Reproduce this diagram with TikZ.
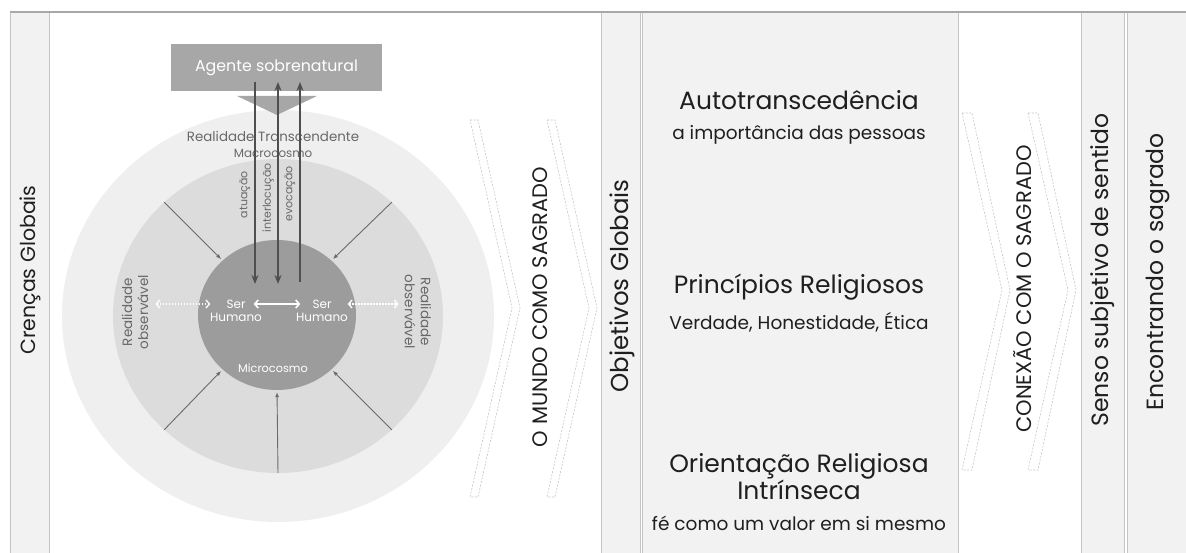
\documentclass[tikz,border=0pt]{standalone}
\usepackage{fontspec}
\setmainfont{Poppins}
\usetikzlibrary{arrows.meta,positioning,shapes.geometric}

\definecolor{panelfill}{HTML}{F2F2F2}
\definecolor{panelline}{HTML}{C4C4C4}
\definecolor{topline}{HTML}{A8A8A8}
\definecolor{macroring}{HTML}{EFEFEF}
\definecolor{obsring}{HTML}{DCDCDC}
\definecolor{microcore}{HTML}{9C9C9C}
\definecolor{agentgray}{HTML}{A7A7A7}
\definecolor{linkgray}{HTML}{4F4F4F}
\definecolor{radialgray}{HTML}{6A6A6A}
\definecolor{softtext}{HTML}{686868}
\definecolor{ink}{HTML}{1F1F1F}

\begin{document}
\begin{tikzpicture}[x=1pt,y=-1pt,
    panel/.style={fill=panelfill,draw=panelline,line width=0.8pt},
    coltitle/.style={rotate=90,text=ink,inner sep=0pt,font=\fontsize{23.5}{28}\selectfont},
    flowtitle/.style={rotate=90,text=ink,inner sep=0pt,font=\fontsize{21}{25}\selectfont},
    chevron/.style={draw=panelline,dash pattern=on 2pt off 1.5pt,line width=0.6pt},
    goaltitle/.style={text=ink,align=center,inner sep=0pt,font=\fontsize{25}{27}\selectfont},
    goalnote/.style={text=ink,inner sep=0pt,font=\fontsize{18.5}{22}\selectfont},
    ring/.style={ellipse,inner sep=0pt,draw=none},
    softlabel/.style={text=softtext,inner sep=1pt},
    humantext/.style={text=white,inner sep=1pt,font=\fontsize{12}{14}\selectfont},
    vertlink/.style={draw=linkgray,line width=1.8pt},
    radial/.style={draw=radialgray,line width=0.9pt,-{Latex[length=5pt,width=4pt]},shorten >=2pt},
    humanlink/.style={draw=white,line width=1.6pt,
        {Straight Barb[length=3.5pt,width=8pt]}-{Straight Barb[length=3.5pt,width=8pt]}},
    obslink/.style={draw=white,line width=1.3pt,dash pattern=on 1.5pt off 1.5pt,
        {Straight Barb[length=3.5pt,width=8pt]}-{Straight Barb[length=3.5pt,width=8pt]}}]

    \useasboundingbox (0,0) rectangle (1186,553);

    % columns
    \draw[panel] (10,12) rectangle (49,560);
    \draw[panelline,line width=0.8pt] (49,12) -- (49,560);
    \draw[panel] (601,12) rectangle (640,560);
    \draw[panel] (642,12) rectangle (958,560);
    \draw[panelline,line width=0.8pt] (1081,12) -- (1081,560);
    \draw[panel] (1081,12) rectangle (1124,560);
    \draw[panel] (1127,12) rectangle (1192,560);
    \draw[topline,line width=2pt] (10,12) -- (1186,12);

    \node[coltitle,font=\fontsize{20.5}{24}\selectfont] (crencas) at (30,270) {Crenças Globais};
    \node[coltitle,font=\fontsize{24.5}{28}\selectfont] (objetivos) at (622,286) {Objetivos Globais};
    \node[coltitle] (senso) at (1103,270) {Senso subjetivo de sentido};
    \node[coltitle] (encontrando) at (1158,272) {Encontrando o sagrado};

    % chevrons
    \foreach \dx in {0,77}
        \draw[chevron,xshift=\dx] (470,120) -- (478,120) -- (520,308) -- (478,497) -- (470,497) -- (512,308) -- cycle;
    \foreach \dx in {0,66}
        \draw[chevron,xshift=\dx] (962,113) -- (972,113) -- (1010,290) -- (972,470) -- (962,470) -- (1002,290) -- cycle;
    \node[flowtitle] (mundo) at (540,307) {O MUNDO COMO SAGRADO};
    \node[flowtitle] (conexao) at (1023,289) {CONEXÃO COM O SAGRADO};

    % goals
    \node[goaltitle] (auto) at (799,100) {Autotranscedência};
    \node[goalnote] (autonote) at (799,135) {a importância das pessoas};
    \node[goaltitle] (princ) at (799,287) {Princípios Religiosos};
    \node[goalnote] (princnote) at (799,322) {Verdade, Honestidade, Ética};
    \node[goaltitle] (orient) at (799,477) {Orientação Religiosa\\Intrínseca};
    \node[goalnote] (orientnote) at (799,523) {fé como um valor em si mesmo};

    % rings
    \node[ring,fill=macroring,minimum width=432,minimum height=412] (macro) at (278,316) {};
    \node[ring,fill=obsring,minimum width=330,minimum height=314] (mid) at (278,316) {};
    \node[ring,fill=microcore,minimum width=158,minimum height=150] (inner) at (277,315) {};

    \foreach \a in {45,135,225,315}
        \draw[radial] (mid.\a) -- (inner.\a);
    \draw[radial] (mid.south) -- (inner.south);

    % agent
    \node[fill=agentgray,minimum width=211,minimum height=47,text=white,inner sep=0pt,
          font=\fontsize{15.8}{18}\selectfont] (agente) at (276.5,67.5) {Agente sobrenatural};
    \fill[agentgray] (237,96) -- (317,96) -- (277,115) -- cycle;

    \node[softlabel,inner sep=0pt,font=\fontsize{13.4}{15}\selectfont] (transc) at (273,136) {Realidade Transcendente};
    \node[softlabel,inner sep=0pt,font=\fontsize{11.9}{13}\selectfont] (macrolabel) at (273,153) {Macrocosmo};

    \coordinate (atuTop) at (255,82);   \coordinate (atuEnd) at (255,284);
    \coordinate (intTop) at (278,82);   \coordinate (intEnd) at (278,284);
    \coordinate (evoTop) at (300,82);   \coordinate (evoEnd) at (300,282);
    \draw[vertlink,-{Stealth[length=9pt,width=7pt]}] (atuTop) -- (atuEnd);
    \draw[vertlink,{Stealth[length=9pt,width=7pt]}-{Stealth[length=9pt,width=7pt]}] (intEnd) -- (intTop);
    \draw[vertlink,-{Stealth[length=9pt,width=7pt]}] (evoEnd) -- (evoTop);

    \node[softlabel,rotate=90,anchor=east,font=\fontsize{11}{12}\selectfont] (atuacao) at (245,170) {atuação};
    \node[softlabel,rotate=90,anchor=east,font=\fontsize{11}{12}\selectfont] (interloc) at (268,162) {interlocução};
    \node[softlabel,rotate=90,anchor=east,font=\fontsize{11}{12}\selectfont] (evocacao) at (290,165) {evocação};

    % humans
    \node[humantext] (serL) at (236,304) {Ser};
    \node[humantext] (humL) at (236,317) {Humano};
    \node[humantext] (serR) at (322,304) {Ser};
    \node[humantext] (humR) at (322,317) {Humano};
    \draw[humanlink,shorten <=7pt,shorten >=11pt] (serL.east) -- (serR.west);

    \node[softlabel,rotate=90,align=center,font=\fontsize{13.5}{16}\selectfont] (obsL) at (135,312) {Realidade\\observável};
    \node[softlabel,rotate=-90,align=center,font=\fontsize{13.5}{16}\selectfont] (obsR) at (418,312) {Realidade\\observável};
    \draw[obslink,shorten <=6pt,shorten >=15pt] (obsL.south |- serL.west) -- (serL.west);
    \draw[obslink,shorten <=15pt,shorten >=5pt] (serR.east) -- (obsR.south |- serR.east);

    \node[humantext,font=\fontsize{11.3}{12}\selectfont] (microlabel) at (273,368) {Microcosmo};
\end{tikzpicture}
\end{document}
